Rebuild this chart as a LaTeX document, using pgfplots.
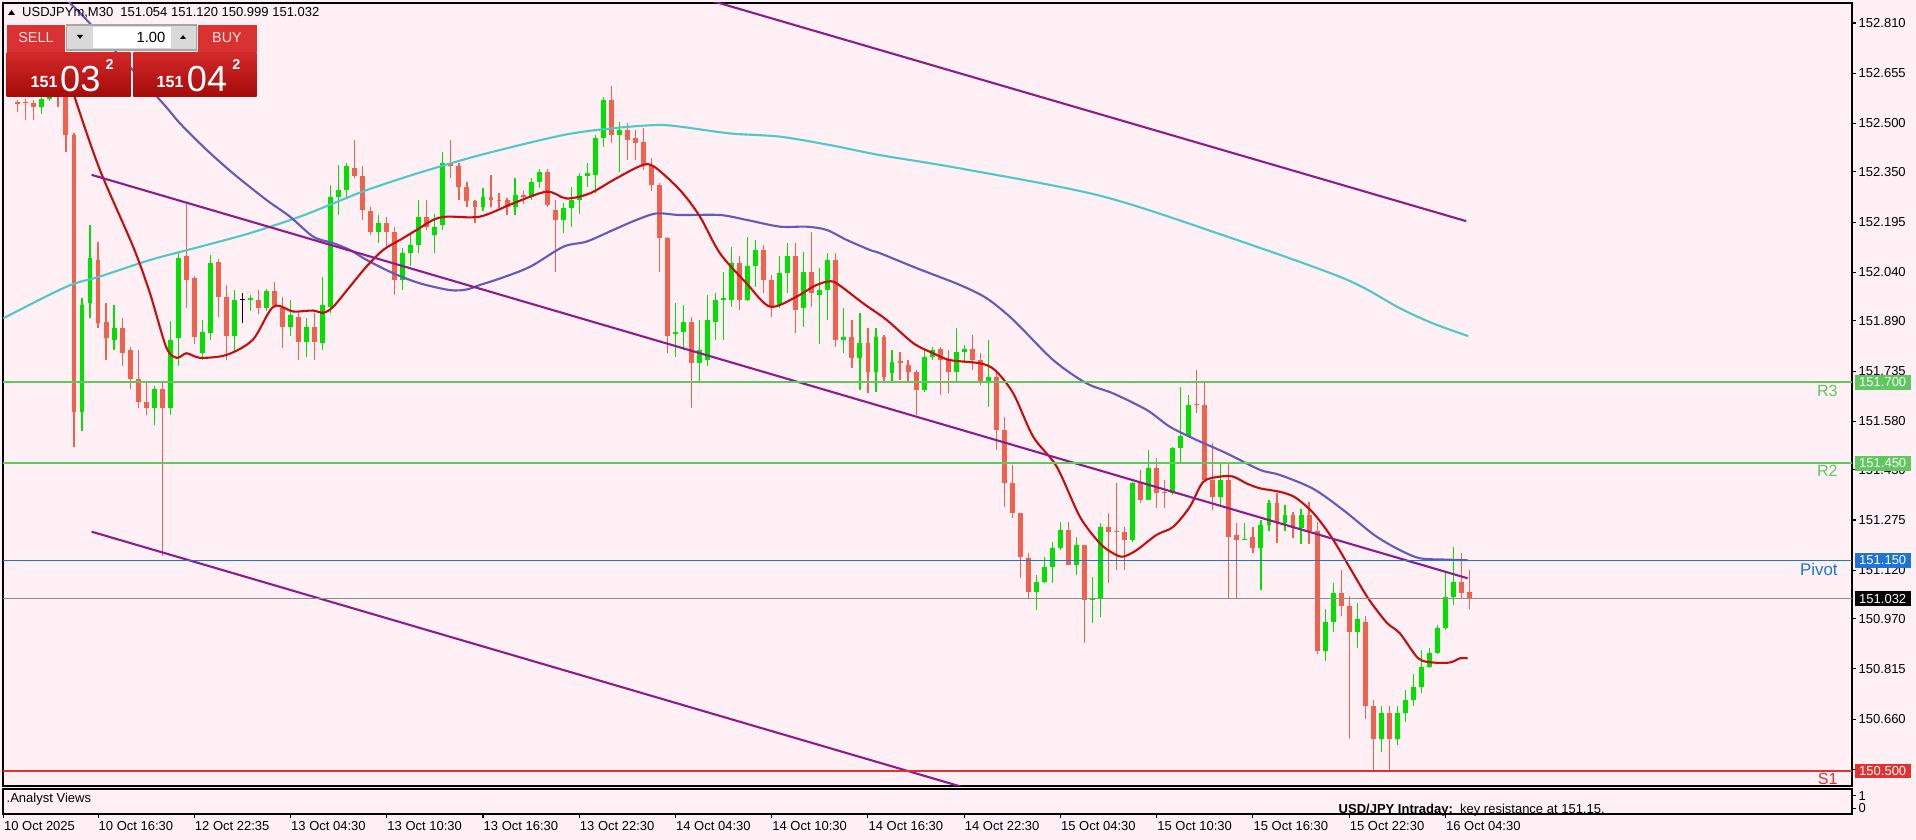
\documentclass[border=0pt]{standalone}
\usepackage{fontspec}
\setmainfont{Liberation Sans}
\usepackage{pgfplots}
\pgfplotsset{compat=1.18}
\usepackage{pgfplotstable}

\definecolor{bgpink}{RGB}{255,240,245}
\definecolor{bull}{RGB}{0,225,0}
\definecolor{bear}{RGB}{238,98,78}
\definecolor{maFast}{RGB}{195,15,15}
\definecolor{maMid}{RGB}{100,90,185}
\definecolor{maSlow}{RGB}{80,200,200}
\definecolor{chan}{RGB}{140,30,140}
\definecolor{lvlGreen}{RGB}{95,200,95}
\definecolor{lvlBlue}{RGB}{30,115,215}
\definecolor{lvlRed}{RGB}{225,50,50}
\definecolor{btnRed}{RGB}{218,50,50}
\definecolor{boxTop}{RGB}{210,40,40}
\definecolor{boxBot}{RGB}{165,10,10}

% M30 candles: index, open, high, low, close
\pgfplotstableread{
x o h l c
2 152.565 152.572 152.536 152.560
3 152.567 152.575 152.511 152.562
4 152.562 152.572 152.511 152.552
5 152.552 152.580 152.530 152.575
6 152.575 152.620 152.570 152.605
7 152.600 152.610 152.550 152.585
8 152.620 152.650 152.413 152.464
9 152.464 152.470 151.500 151.610
10 151.610 151.960 151.550 151.940
11 151.945 152.186 151.900 152.083
12 152.078 152.135 151.867 151.883
13 151.888 151.945 151.770 151.836
14 151.831 151.940 151.800 151.867
15 151.867 151.900 151.750 151.790
16 151.800 151.810 151.680 151.710
17 151.710 151.800 151.620 151.640
18 151.640 151.700 151.600 151.620
19 151.620 151.690 151.570 151.680
20 151.680 151.700 151.165 151.620
21 151.620 151.890 151.600 151.830
22 151.836 152.099 151.750 152.083
23 152.089 152.253 151.930 152.017
24 152.022 152.030 151.820 151.840
25 151.790 151.893 151.770 151.857
26 151.852 152.094 151.830 152.068
27 152.073 152.080 151.903 151.965
28 151.965 152.001 151.770 151.842
29 151.842 151.986 151.790 151.955
30 151.956 151.975 151.883 151.956
31 151.955 151.970 151.920 151.962
32 151.955 151.986 151.910 151.929
33 151.929 151.990 151.920 151.981
34 151.981 152.011 151.930 151.939
35 151.929 151.965 151.806 151.872
36 151.872 151.955 151.842 151.909
37 151.903 151.914 151.770 151.826
38 151.826 151.898 151.780 151.872
39 151.872 151.914 151.770 151.826
40 151.821 152.027 151.800 151.939
41 151.934 152.310 151.914 152.274
42 152.274 152.370 152.217 152.295
43 152.295 152.377 152.270 152.367
44 152.361 152.449 152.330 152.336
45 152.336 152.367 152.202 152.233
46 152.228 152.243 152.156 152.166
47 152.166 152.217 152.130 152.192
48 152.192 152.212 152.120 152.166
49 152.166 152.181 151.970 152.017
50 152.017 152.114 151.986 152.099
51 152.099 152.160 152.058 152.125
52 152.125 152.264 152.100 152.212
53 152.212 152.264 152.170 152.181
54 152.156 152.220 152.100 152.181
55 152.186 152.413 152.171 152.377
56 152.377 152.449 152.330 152.367
57 152.367 152.377 152.264 152.305
58 152.305 152.320 152.243 152.259
59 152.259 152.264 152.192 152.243
60 152.243 152.300 152.230 152.274
61 152.274 152.341 152.243 152.264
62 152.264 152.284 152.238 152.262
63 152.262 152.270 152.217 152.243
64 152.243 152.331 152.217 152.279
65 152.279 152.290 152.250 152.274
66 152.274 152.331 152.264 152.320
67 152.320 152.360 152.300 152.350
68 152.350 152.360 152.243 152.248
69 152.233 152.264 152.042 152.202
70 152.202 152.253 152.161 152.238
71 152.238 152.305 152.180 152.264
72 152.264 152.346 152.220 152.336
73 152.336 152.377 152.305 152.346
74 152.341 152.464 152.284 152.454
75 152.454 152.583 152.428 152.572
76 152.572 152.614 152.440 152.464
77 152.464 152.505 152.351 152.480
78 152.480 152.500 152.387 152.449
79 152.454 152.480 152.387 152.439
80 152.444 152.485 152.356 152.372
81 152.372 152.392 152.290 152.310
82 152.310 152.315 152.042 152.145
83 152.145 152.150 151.790 151.842
84 151.850 151.944 151.780 151.857
85 151.857 151.939 151.800 151.888
86 151.888 151.903 151.620 151.760
87 151.760 151.893 151.700 151.800
88 151.770 151.970 151.750 151.893
89 151.888 151.975 151.831 151.955
90 151.955 152.040 151.830 151.960
91 151.955 152.119 151.934 152.068
92 152.068 152.089 151.924 151.955
93 151.955 152.150 151.950 152.058
94 152.058 152.140 151.996 152.109
95 152.109 152.125 151.975 152.017
96 152.017 152.032 151.903 151.934
97 151.939 152.089 151.930 152.037
98 152.037 152.130 151.975 152.089
99 152.089 152.130 151.852 151.924
100 151.929 152.104 151.872 152.042
101 152.042 152.166 151.934 151.975
102 151.970 152.052 151.820 151.986
103 151.986 152.099 151.893 152.078
104 152.078 152.099 151.810 151.831
105 151.831 151.930 151.790 151.841
106 151.841 151.893 151.744 151.775
107 151.775 151.913 151.677 151.821
108 151.821 151.867 151.666 151.733
109 151.733 151.867 151.671 151.841
110 151.841 151.846 151.697 151.718
111 151.728 151.800 151.697 151.764
112 151.766 151.795 151.708 151.759
113 151.754 151.769 151.697 151.733
114 151.733 151.738 151.599 151.677
115 151.677 151.800 151.670 151.780
116 151.780 151.810 151.770 151.800
117 151.803 151.810 151.661 151.769
118 151.769 151.800 151.666 151.733
119 151.733 151.867 151.697 151.795
120 151.795 151.815 151.759 151.803
121 151.803 151.846 151.738 151.769
122 151.769 151.790 151.692 151.702
123 151.697 151.831 151.625 151.718
124 151.718 151.733 151.491 151.553
125 151.553 151.594 151.316 151.388
126 151.388 151.445 151.280 151.296
127 151.296 151.296 151.095 151.162
128 151.157 151.172 151.033 151.054
129 151.054 151.105 150.997 151.085
130 151.085 151.162 151.080 151.131
131 151.131 151.208 151.080 151.188
132 151.188 151.270 151.183 151.244
133 151.244 151.270 151.136 151.136
134 151.136 151.224 151.105 151.198
135 151.198 151.198 150.894 151.028
136 151.028 151.100 150.956 151.033
137 151.033 151.265 150.977 151.254
138 151.254 151.296 151.080 151.239
139 151.241 151.388 151.121 151.237
140 151.239 151.254 151.121 151.213
141 151.213 151.394 151.208 151.388
142 151.388 151.430 151.327 151.337
143 151.337 151.491 151.337 151.435
144 151.435 151.466 151.311 151.357
145 151.362 151.398 151.311 151.357
146 151.357 151.502 151.352 151.496
147 151.496 151.687 151.450 151.533
148 151.533 151.661 151.533 151.630
149 151.633 151.738 151.605 151.630
150 151.630 151.697 151.399 151.399
151 151.399 151.512 151.306 151.347
152 151.347 151.450 151.316 151.399
153 151.399 151.450 151.033 151.224
154 151.229 151.265 151.033 151.213
155 151.213 151.265 151.213 151.216
156 151.224 151.254 151.172 151.188
157 151.188 151.275 151.059 151.259
158 151.260 151.337 151.240 151.327
159 151.327 151.357 151.203 151.265
160 151.265 151.320 151.240 151.290
161 151.290 151.300 151.220 151.250
162 151.250 151.310 151.200 151.290
163 151.290 151.330 151.200 151.240
164 151.240 151.270 150.860 150.870
165 150.870 151.000 150.840 150.960
166 150.960 151.080 150.930 151.050
167 151.050 151.120 150.980 151.010
168 151.010 151.040 150.600 150.930
169 150.930 151.020 150.880 150.970
170 150.960 150.980 150.660 150.700
171 150.700 150.720 150.500 150.600
172 150.600 150.700 150.560 150.680
173 150.680 150.700 150.500 150.600
174 150.600 150.700 150.580 150.680
175 150.680 150.750 150.650 150.720
176 150.720 150.800 150.700 150.760
177 150.760 150.874 150.740 150.822
178 150.822 150.879 150.817 150.863
179 150.863 150.950 150.860 150.941
180 150.941 151.110 150.935 151.038
181 151.038 151.193 151.013 151.085
182 151.085 151.172 151.033 151.049
183 151.054 151.120 150.999 151.032
}\candles

\newcommand{\fsz}[1]{\fontsize{#1}{#1}\selectfont}

\begin{document}
\begin{tikzpicture}
\useasboundingbox (0,0) rectangle (19.16,8.40);
\fill[bgpink] (0,0) rectangle (19.16,8.40);

\begin{axis}[
  at={(0.03cm,0.54cm)}, anchor=south west,
  scale only axis, width=18.49cm, height=7.83cm,
  xmin=0.15, xmax=230.7, ymin=150.4536, ymax=152.8718,
  axis background/.style={fill=bgpink},
  axis line style={black, line width=0.35pt},
  xtick=\empty,
  ytick={152.810,152.655,152.500,152.350,152.195,152.040,151.890,151.735,151.580,151.430,151.275,151.120,150.970,150.815,150.660,150.505},
  yticklabels={152.810,152.655,152.500,152.350,152.195,152.040,151.890,151.735,151.580,151.430,151.275,151.120,150.970,150.815,150.660,150.505},
  ytick pos=right, yticklabel pos=right,
  tick align=outside, major tick length=0.04cm,
  tick style={black, line width=0.3pt},
  yticklabel style={font=\fsz{3.7pt}, inner sep=0pt, xshift=0.02cm},
]
% wicks
\addplot[bull, line width=0.33pt, quiver={u=0, v=\thisrow{h}-\thisrow{l}},
  restrict expr to domain={\thisrow{c}-\thisrow{o}}{0.00001:10}] table[x=x, y=l] {\candles};
\addplot[bear, line width=0.33pt, quiver={u=0, v=\thisrow{h}-\thisrow{l}},
  restrict expr to domain={\thisrow{o}-\thisrow{c}}{0.00001:10}] table[x=x, y=l] {\candles};
\addplot[black, line width=0.33pt, quiver={u=0, v=\thisrow{h}-\thisrow{l}},
  restrict expr to domain={abs(\thisrow{o}-\thisrow{c})}{0:0.000005}] table[x=x, y=l] {\candles};
% bodies
\addplot[bull, line width=1.4pt, quiver={u=0, v=\thisrow{c}-\thisrow{o}},
  restrict expr to domain={\thisrow{c}-\thisrow{o}}{0.00001:10}] table[x=x, y=o] {\candles};
\addplot[bear, line width=1.4pt, quiver={u=0, v=\thisrow{o}-\thisrow{c}},
  restrict expr to domain={\thisrow{o}-\thisrow{c}}{0.00001:10}] table[x=x, y=c] {\candles};
\addplot[black, line width=0.33pt, quiver={u=0.6, v=0},
  restrict expr to domain={abs(\thisrow{o}-\thisrow{c})}{0:0.000005}] table[x expr=\thisrow{x}-0.3, y=o] {\candles};

% slow MA
\addplot[maSlow, line width=0.6pt, smooth, tension=0.5] coordinates {
(0.19,151.898) (8.09,151.996) (12.24,152.027) (18.48,152.078) (24.71,152.119)
(30.95,152.161) (37.18,152.212) (41.34,152.253) (45.50,152.294) (51.73,152.345)
(59.62,152.402) (70.01,152.464) (76.25,152.485) (81.65,152.495) (84.56,152.490)
(90.79,152.469) (97.03,152.459) (103.26,152.433) (109.50,152.402) (119.47,152.361)
(136.88,152.277) (152.12,152.156) (167.36,152.021) (174.33,151.929) (178.48,151.882)
(182.85,151.843)};
% medium MA
\addplot[maMid, line width=0.6pt, smooth, tension=0.5] coordinates {
(8.09,152.881) (10.79,152.814) (19.73,152.572) (22.22,152.500) (25.55,152.418)
(28.87,152.345) (33.03,152.263) (35.93,152.212) (38.84,152.150) (41.34,152.130)
(43.41,152.109) (45.50,152.078) (48.82,152.037) (52.14,152.006) (55.89,151.985)
(57.96,151.987) (59.62,152.001) (62.12,152.021) (65.86,152.057) (70.01,152.119)
(72.92,152.135) (76.25,152.171) (79.15,152.202) (81.65,152.222) (84.56,152.217)
(89.54,152.217) (92.86,152.202) (97.03,152.181) (100.36,152.181) (102.85,152.171)
(105.35,152.140) (108.25,152.109) (109.50,152.099) (113.66,152.057) (115.73,152.037)
(119.47,152.001) (122.79,151.960) (126.12,151.893) (131.10,151.769) (135.27,151.697)
(138.58,151.666) (142.76,151.615) (145.65,151.563) (148.99,151.522) (152.72,151.481)
(156.88,151.430) (159.37,151.414) (163.55,151.371) (167.36,151.304) (171.17,151.228)
(174.33,151.182) (176.81,151.157) (179.72,151.153) (182.77,151.151)};
% fast MA
\addplot[maFast, line width=0.6pt, smooth, tension=0.5] coordinates {
(7.5,152.72) (9.13,152.578) (12.24,152.356) (16.38,152.119) (18.48,151.975)
(20.50,151.809) (21.81,151.776) (23.05,151.790) (24.71,151.776) (28.04,151.785)
(31.31,151.832) (33.86,151.934) (36.34,151.919) (38.78,151.922) (40.10,151.915)
(41.34,151.934) (43.41,151.996) (45.48,152.058) (47.55,152.109) (49.65,152.140)
(51.73,152.171) (53.80,152.202) (55.47,152.212) (59.62,152.212) (63.76,152.253)
(67.94,152.289) (70.44,152.268) (73.34,152.284) (76.25,152.325) (79.58,152.368)
(81.24,152.368) (84.56,152.294) (87.05,152.212) (89.54,152.099) (92.86,152.006)
(95.79,151.934) (99.11,151.965) (101.18,151.996) (102.85,152.011) (104.09,152.006)
(107.41,151.944) (110.33,151.893) (113.66,151.821) (116.14,151.790) (118.22,151.769)
(121.96,151.759) (123.83,151.738) (126.12,151.666) (128.61,151.532) (131.53,151.440)
(134.43,151.285) (136.92,151.203) (138.58,151.172) (139.83,151.162) (141.50,151.182)
(143.98,151.229) (146.06,151.254) (148.14,151.316) (149.81,151.393) (151.89,151.409)
(153.54,151.409) (155.21,151.388) (156.88,151.373) (159.37,151.362) (161.26,151.345)
(163.55,151.296) (165.83,151.221) (168.12,151.126) (170.40,151.032) (172.69,150.958)
(174.33,150.925) (176.61,150.848) (178.48,150.835) (180.57,150.835) (181.82,150.848)
(182.77,150.848)};

% channel
\addplot[chan, line width=0.6pt] coordinates {(80,152.940) (182.6,152.198)};
\addplot[chan, line width=0.6pt] coordinates {(11.20,152.341) (182.77,151.095)};
\addplot[chan, line width=0.6pt] coordinates {(11.20,151.239) (182.77,149.993)};

% levels
\addplot[lvlGreen, line width=0.55pt] coordinates {(0.15,151.700) (230.7,151.700)};
\addplot[lvlGreen, line width=0.55pt] coordinates {(0.15,151.450) (230.7,151.450)};
\addplot[lvlBlue, line width=0.55pt] coordinates {(0.15,151.150) (230.7,151.150)};
\addplot[lvlRed, line width=0.55pt] coordinates {(0.15,150.500) (230.7,150.500)};
\addplot[black!45, line width=0.3pt] coordinates {(0.15,151.032) (230.7,151.032)};

\node[anchor=north east, inner sep=0pt, text=lvlGreen, font=\fsz{4.6pt}] at (axis cs:229,151.695) {R3};
\node[anchor=north east, inner sep=0pt, text=lvlGreen, font=\fsz{4.6pt}] at (axis cs:229,151.445) {R2};
\node[anchor=north east, inner sep=0pt, text=lvlBlue, font=\fsz{4.8pt}] at (axis cs:229,151.145) {Pivot};
\node[anchor=north east, inner sep=0pt, text=lvlRed, font=\fsz{4.6pt}] at (axis cs:229,150.495) {S1};

\coordinate (r3) at (axis cs:230.7,151.700);
\coordinate (r2) at (axis cs:230.7,151.450);
\coordinate (pv) at (axis cs:230.7,151.150);
\coordinate (cp) at (axis cs:230.7,151.032);
\coordinate (s1) at (axis cs:230.7,150.500);
\end{axis}

% price boxes on the right scale
\tikzset{pbox/.style={anchor=west, inner sep=0pt, minimum width=0.56cm, minimum height=0.145cm, text=white, font=\fsz{3.7pt}}}
\node[pbox, fill=lvlGreen] at ([xshift=0.02cm]r3) {151.700};
\node[pbox, fill=lvlGreen] at ([xshift=0.02cm]r2) {151.450};
\node[pbox, fill=lvlBlue] at ([xshift=0.02cm]pv) {151.150};
\node[pbox, fill=black] at ([xshift=0.02cm]cp) {151.032};
\node[pbox, fill=lvlRed] at ([xshift=0.02cm]s1) {150.500};

% indicator sub-window with the time scale
\begin{axis}[
  at={(0.03cm,0.26cm)}, anchor=south west,
  scale only axis, width=18.49cm, height=0.25cm,
  xmin=0.15, xmax=230.7, ymin=-0.49, ymax=1.574,
  axis background/.style={fill=bgpink},
  axis line style={black, line width=0.35pt},
  ytick={0,1}, yticklabels={0,1}, ytick pos=right, yticklabel pos=right,
  xtick={0.2,12,24,36,48,60,72,84,96,108,120,132,144,156,168,180},
  xticklabels={10 Oct 2025,10 Oct 16:30,12 Oct 22:35,13 Oct 04:30,13 Oct 10:30,13 Oct 16:30,13 Oct 22:30,14 Oct 04:30,14 Oct 10:30,14 Oct 16:30,14 Oct 22:30,15 Oct 04:30,15 Oct 10:30,15 Oct 16:30,15 Oct 22:30,16 Oct 04:30},
  xtick pos=bottom,
  tick align=outside, major tick length=0.04cm,
  tick style={black, line width=0.3pt},
  xticklabel style={font=\fsz{3.7pt}, anchor=north west, inner sep=0pt, yshift=-0.03cm},
  yticklabel style={font=\fsz{3.7pt}, inner sep=0pt, xshift=0.02cm},
]
\end{axis}
\node[anchor=west, inner sep=0pt, font=\fsz{3.7pt}] at (0.06,0.41) {.Analyst Views};
\node[anchor=west, inner sep=0pt, font=\fsz{3.7pt}] at (13.38,0.30) {\textbf{USD/JPY Intraday:}\ \ key resistance at 151.15.};

% symbol line
\fill[black] (0.08,8.25) -- (0.15,8.25) -- (0.115,8.30) -- cycle;
\node[anchor=west, inner sep=0pt, font=\fsz{3.7pt}] at (0.215,8.27) {USDJPYm,M30\ \ 151.054 151.120 150.999 151.032};

% one-click trading panel
\fill[btnRed] (0.067,8.15) rectangle (0.65,7.883);
\fill[black!15] (0.667,8.15) rectangle (1.967,7.90);
\draw[black!35, line width=0.3pt] (0.667,8.15) rectangle (1.967,7.90);
\fill[white] (0.93,8.13) rectangle (1.71,7.92);
\fill[btnRed] (1.977,8.15) rectangle (2.567,7.883);
\shade[top color=boxTop, bottom color=boxBot] (0.067,7.873) rectangle (1.307,7.433);
\shade[top color=boxTop, bottom color=boxBot] (1.333,7.873) rectangle (2.567,7.433);
\fill[black] (0.77,8.05) -- (0.83,8.05) -- (0.80,8.01) -- cycle;
\fill[black] (1.80,8.01) -- (1.86,8.01) -- (1.83,8.05) -- cycle;
\node[inner sep=0pt, text=red!12, font=\fsz{4.1pt}] at (0.36,8.02) {SELL};
\node[inner sep=0pt, text=red!12, font=\fsz{4.1pt}] at (2.27,8.02) {BUY};
\node[anchor=east, inner sep=0pt, font=\fsz{4.2pt}] at (1.66,8.025) {1.00};
\node[anchor=base west, inner sep=0pt, text=white, font=\fsz{4.6pt}\bfseries] at (0.30,7.52) {151};
\node[anchor=base west, inner sep=0pt, text=white, font=\fsz{10.3pt}] at (0.595,7.485) {03};
\node[anchor=base west, inner sep=0pt, text=white, font=\fsz{4.1pt}\bfseries] at (1.05,7.70) {2};
\node[anchor=base west, inner sep=0pt, text=white, font=\fsz{4.6pt}\bfseries] at (1.56,7.52) {151};
\node[anchor=base west, inner sep=0pt, text=white, font=\fsz{10.3pt}] at (1.862,7.485) {04};
\node[anchor=base west, inner sep=0pt, text=white, font=\fsz{4.1pt}\bfseries] at (2.317,7.70) {2};
\end{tikzpicture}
\end{document}
